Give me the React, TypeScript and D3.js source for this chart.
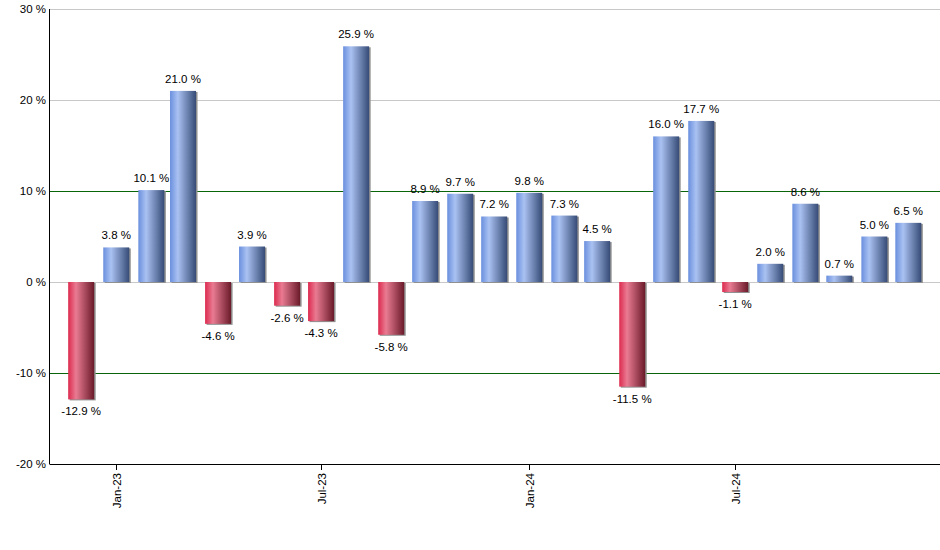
import React from "react";
import * as d3 from "d3";

const months: string[] = [
  "2022-12", "2023-01", "2023-02", "2023-03", "2023-04", "2023-05", "2023-06",
  "2023-07", "2023-08", "2023-09", "2023-10", "2023-11", "2023-12",
  "2024-01", "2024-02", "2024-03", "2024-04", "2024-05", "2024-06",
  "2024-07", "2024-08", "2024-09", "2024-10", "2024-11", "2024-12",
];
const returns: number[] = [
  -12.9, 3.8, 10.1, 21.0, -4.6, 3.9, -2.6, -4.3, 25.9, -5.8, 8.9, 9.7, 7.2,
  9.8, 7.3, 4.5, -11.5, 16.0, 17.7, -1.1, 2.0, 8.6, 0.7, 5.0, 6.5,
];
const yTicks: number[] = [-20, -10, 0, 10, 20, 30];
const xTickDates: string[] = ["2023-01", "2023-07", "2024-01", "2024-07"];
const xTickLabels: string[] = ["Jan-23", "Jul-23", "Jan-24", "Jul-24"];

const parse = (s: string) => {
  const [y, m] = s.split("-").map(Number);
  return new Date(y, m - 1, 1);
};

export default function App() {
  const W = 940, H = 550;
  const left = 49.5, right = 940, top = 9, bottom = 464;
  const x = d3.scaleTime()
    .domain([new Date(2022, 10, 3), new Date(2024, 11, 29)])
    .range([left, right]);
  const y = d3.scaleLinear().domain([-20, 30]).range([bottom, top]);
  const bw = 26;
  const font = "'Liberation Sans', Arial, sans-serif";

  return (
    <svg width={W} height={H} style={{ position: "absolute", left: 0, top: 0, background: "#fff" }}>
      <defs>
        <linearGradient id="gBlue" x1="0" x2="1" y1="0" y2="0">
          <stop offset="0" stopColor="#6a8fde" />
          <stop offset="0.3" stopColor="#aac2f2" />
          <stop offset="1" stopColor="#364b76" />
        </linearGradient>
        <linearGradient id="gRed" x1="0" x2="1" y1="0" y2="0">
          <stop offset="0" stopColor="#dc2a4e" />
          <stop offset="0.3" stopColor="#e97b92" />
          <stop offset="1" stopColor="#6a1a2a" />
        </linearGradient>
      </defs>
      {yTicks.filter(t => t !== -20).map(t => (
        <line key={"g" + t} x1={left} x2={right} y1={Math.round(y(t)) + 0.5} y2={Math.round(y(t)) + 0.5}
          stroke={t === 10 || t === -10 ? "#0a640a" : "#c8c8c8"} strokeWidth={1} />
      ))}
      {returns.map((v, i) => {
        const cx = x(parse(months[i]));
        const y0 = y(0), y1 = y(v);
        const ry = Math.min(y0, y1), rh = Math.abs(y1 - y0);
        return (
          <g key={"b" + i}>
            <rect x={cx - bw / 2 + 1.5} y={ry + 1} width={bw} height={rh} fill="#909090" />
            <rect x={cx - bw / 2} y={ry} width={bw} height={rh} fill={v >= 0 ? "url(#gBlue)" : "url(#gRed)"} />
            <text x={cx} y={v >= 0 ? y1 - 8 : y1 + 16} textAnchor="middle" fontFamily={font} fontSize={11.5} fill="#000">
              {v.toFixed(1) + " %"}
            </text>
          </g>
        );
      })}
      <line x1={left} x2={left} y1={top} y2={bottom} stroke="#000" strokeWidth={1} />
      <line x1={left} x2={right} y1={bottom + 0.5} y2={bottom + 0.5} stroke="#000" strokeWidth={1} />
      {yTicks.map(t => (
        <text key={"yt" + t} x={46} y={y(t) + 4} textAnchor="end" fontFamily={font} fontSize={11.5} fill="#000">
          {t + " %"}
        </text>
      ))}
      {xTickDates.map((d, i) => {
        const xx = Math.round(x(parse(d))) + 0.5;
        return (
          <g key={"xt" + i}>
            <line x1={xx} x2={xx} y1={bottom} y2={bottom + 6} stroke="#000" />
            <text transform={`translate(${xx + 4},${bottom + 9}) rotate(-90)`} textAnchor="end"
              fontFamily={font} fontSize={11.5} fill="#000">
              {xTickLabels[i]}
            </text>
          </g>
        );
      })}
    </svg>
  );
}
